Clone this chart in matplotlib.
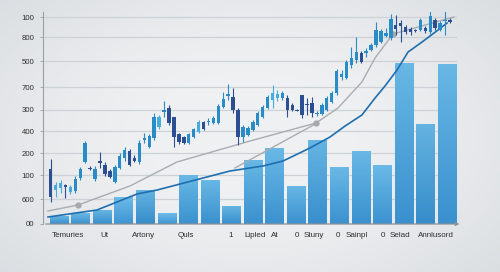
import numpy as np
import matplotlib
matplotlib.use("Agg")
import matplotlib.pyplot as plt

# ---------------- data ----------------
bar_values = [8, 11, 14, 27, 34, 11, 49, 44, 18, 64, 76, 38, 84, 57, 73, 59, 161, 100, 160]

# candles: body top, body bottom, high, low, colour class (0 navy, 1 mid, 2 light)
candle_top = [55, 39, 41, 39, 37, 45, 55, 81, 56, 55, 63, 59, 53, 57, 68, 74, 73, 66, 81, 86,
              88, 107, 107, 114, 116, 107, 90, 87, 90, 95, 102, 102, 103, 106, 118, 125, 130, 127, 114, 97,
              96, 102, 111, 117, 127, 131, 130, 131, 126, 119, 114, 129, 120, 121, 111, 119, 126, 131, 153, 150,
              162, 166, 172, 171, 173, 179, 194, 193, 191, 205, 199, 201, 197, 195, 194, 204, 196, 208, 204, 201, 204, 204]
candle_bot = [27, 34, 36, 37, 32, 33, 46, 62, 55, 45, 61, 50, 47, 42, 56, 66, 59, 63, 62, 84,
              77, 86, 97, 112, 101, 87, 82, 81, 81, 87, 92, 95, 102, 101, 101, 117, 128, 114, 87, 87,
              89, 94, 99, 107, 116, 124, 126, 126, 114, 114, 113, 109, 119, 111, 110, 110, 114, 122, 131, 147,
              146, 159, 164, 162, 171, 174, 179, 182, 188, 186, 195, 198, 192, 192, 193, 194, 193, 192, 196, 194, 203, 202]
candle_high = [65, 42, 44, 40, 39, 48, 57, 83, 58, 58, 72, 62, 55, 59, 71, 77, 75, 69, 84, 91,
               90, 111, 109, 123, 119, 107, 91, 88, 91, 96, 104, 103, 106, 108, 120, 132, 140, 136, 116, 99,
               98, 104, 113, 119, 129, 139, 134, 133, 129, 121, 115, 129, 126, 127, 113, 121, 128, 133, 155, 154,
               164, 177, 187, 173, 176, 181, 202, 195, 196, 210, 209, 204, 199, 197, 195, 206, 198, 214, 206, 203, 214, 206]
candle_low = [22, 27, 31, 26, 30, 31, 44, 61, 54, 43, 56, 48, 46, 41, 55, 63, 58, 62, 60, 81,
              76, 84, 95, 107, 99, 77, 80, 80, 80, 86, 91, 94, 99, 100, 100, 116, 124, 111, 79, 82,
              88, 93, 98, 106, 115, 116, 123, 124, 107, 113, 113, 106, 109, 107, 108, 109, 113, 121, 129, 144,
              145, 156, 161, 161, 167, 173, 177, 181, 187, 184, 189, 182, 190, 189, 192, 193, 191, 190, 194, 193, 189, 201]
candle_kind = [0, 2, 2, 0, 2, 1, 1, 1, 0, 1, 0, 0, 0, 1, 1, 1, 0, 0, 1, 1,
               1, 1, 2, 1, 0, 0, 0, 0, 1, 1, 2, 0, 1, 1, 1, 1, 1, 0, 0, 1,
               1, 1, 1, 1, 1, 2, 2, 1, 0, 0, 0, 0, 0, 0, 1, 1, 1, 1, 1, 1,
               1, 1, 1, 0, 1, 1, 1, 1, 1, 1, 0, 0, 0, 0, 0, 1, 0, 1, 0, 1, 1, 0]

gray_x = [-0.51, 0.88, 3.29, 5.47, 8.86, 11.92, 12.94, 14.05, 14.66, 15.49, 18.32]
gray_y = [13, 19, 38, 62, 83, 101, 116, 142, 166, 190, 207]
gray2_x = [8.16, 11.97]
gray2_y = [56, 101]
marker_x = [0.88, 11.92, 15.49]
marker_y = [19, 101, 190]

blue_x = [-0.51, 1.76, 3.62, 4.55, 7.93, 9.46, 10.39, 11.64, 12.57, 13.27, 14.05, 14.66,
          15.12, 15.68, 16.19, 16.84, 17.58, 18.0]
blue_y = [7, 14, 30, 34, 53, 58, 63, 76, 87, 98, 109, 126, 138, 154, 172, 182, 194, 201]

ytick_vals = [0, 25, 49, 71, 93, 114, 137, 163, 187, 207]
ytick_labels = ["00", "600", "100", "200", "400", "300", "700", "500", "800", "100"]

xtick_pos = [0.42, 2.09, 3.94, 5.89, 7.98, 9.09, 10.02, 11.04, 11.83, 12.94, 13.82, 15.03, 15.82, 17.49]
xtick_labels = ["Temuries", "Ut", "Artony", "Quls", "1", "Lipled", "At", "0", "Stuny", "0",
                "Sainpl", "0", "Selad", "Annlusord"]

# ---------------- figure ----------------
fig = plt.figure(figsize=(5.0, 2.72), dpi=100)

# background gradient
bg = fig.add_axes([0, 0, 1, 1], zorder=-10)
xx, yy = np.meshgrid(np.linspace(-1, 1, 200), np.linspace(-1, 1, 120))
r = np.sqrt((xx * 0.9) ** 2 + (yy * 0.8) ** 2)
c0 = np.array([0.94, 0.945, 0.95])
c1 = np.array([0.85, 0.865, 0.88])
img = c0[None, None, :] + (c1 - c0)[None, None, :] * np.clip(r - 0.25, 0, 1)[:, :, None] ** 1.5
bg.imshow(img, aspect="auto", extent=[0, 1, 0, 1])
bg.axis("off")

ax = fig.add_axes([43 / 500, 1 - 224 / 272, (457 - 43) / 500, 212 / 272])
ax.patch.set_alpha(0)
ax.set_xlim(-0.742, 18.46)
ax.set_ylim(0, 212)

for v in ytick_vals[1:]:
    ax.axhline(v, color="#cdd2d6", lw=0.9, zorder=0)

# bars with vertical gradient
bar_shade = [0.0, 0.1, 0.0, 0.3, -0.1, 0.3, 0.15, 0.1, 0.0, 0.1, 0.15, 0.1, 0.0, 0.15, 0.1, 0.2,
             0.1, -0.1, 0.1]
bars = ax.bar(range(len(bar_values)), bar_values, width=0.86, color="none", zorder=2)
top_c = np.array([0.40, 0.71, 0.89])
bot_c = np.array([0.22, 0.56, 0.80])
grad_t = np.linspace(0, 1, 64)[:, None, None]
for b, s in zip(bars, bar_shade):
    x0, y0 = b.get_x(), b.get_y()
    bw, bh = b.get_width(), b.get_height()
    tc = np.clip(top_c + s * 0.08, 0, 1)
    bc = np.clip(bot_c + s * 0.08, 0, 1)
    g = bc[None, None, :] + (tc - bc)[None, None, :] * grad_t
    g = np.repeat(g, 2, axis=1)
    im = ax.imshow(g, extent=[x0, x0 + bw, y0, y0 + bh], origin="lower", aspect="auto", zorder=2)
    im.set_clip_path(b)
ax.set_xlim(-0.742, 18.46)
ax.set_ylim(0, 212)

# lines
ax.plot(gray_x, gray_y, color="#a9adb0", lw=1.0, zorder=3)
ax.plot(gray2_x, gray2_y, color="#a9adb0", lw=1.0, zorder=3)
ax.plot(marker_x, marker_y, "o", color="#a5a9ad", ms=3.5, zorder=4)
ax.plot(blue_x, blue_y, color="#1f6fb0", lw=1.2, zorder=3)

# candles
kind_cols = ["#2b4f90", "#2a8cc6", "#45acde"]
n = len(candle_top)
cx = np.linspace(-0.385, 18.135, n)
w = 0.16
for i in range(n):
    col = kind_cols[candle_kind[i]]
    ax.vlines(cx[i], candle_low[i], candle_high[i], color=col, lw=0.8, zorder=5)
    h = max(candle_top[i] - candle_bot[i], 1.0)
    ax.add_patch(plt.Rectangle((cx[i] - w / 2, candle_bot[i]), w, h, color=col, zorder=6, lw=0))

# axes styling
for s in ["top", "right"]:
    ax.spines[s].set_visible(False)
ax.spines["left"].set_color("#9aa0a5")
ax.spines["left"].set_linewidth(0.8)
ax.spines["bottom"].set_visible(False)
ax.annotate("", xy=(18.7, 0), xytext=(-0.742, 0),
            arrowprops=dict(arrowstyle="-|>", color="#8a9096", lw=0.9, mutation_scale=5),
            annotation_clip=False, zorder=7)

ax.set_yticks(ytick_vals)
ax.set_yticklabels(ytick_labels, fontsize=5.6, color="#2d2d2d", family="Liberation Sans")
ax.tick_params(axis="y", length=2, width=0.6, color="#9aa0a5", pad=4)
ax.set_xticks(xtick_pos)
ax.set_xticklabels(xtick_labels, fontsize=5.8, color="#2d2d2d", family="Liberation Sans")
ax.tick_params(axis="x", length=0, pad=6)

fig.savefig("out.png", dpi=100)
